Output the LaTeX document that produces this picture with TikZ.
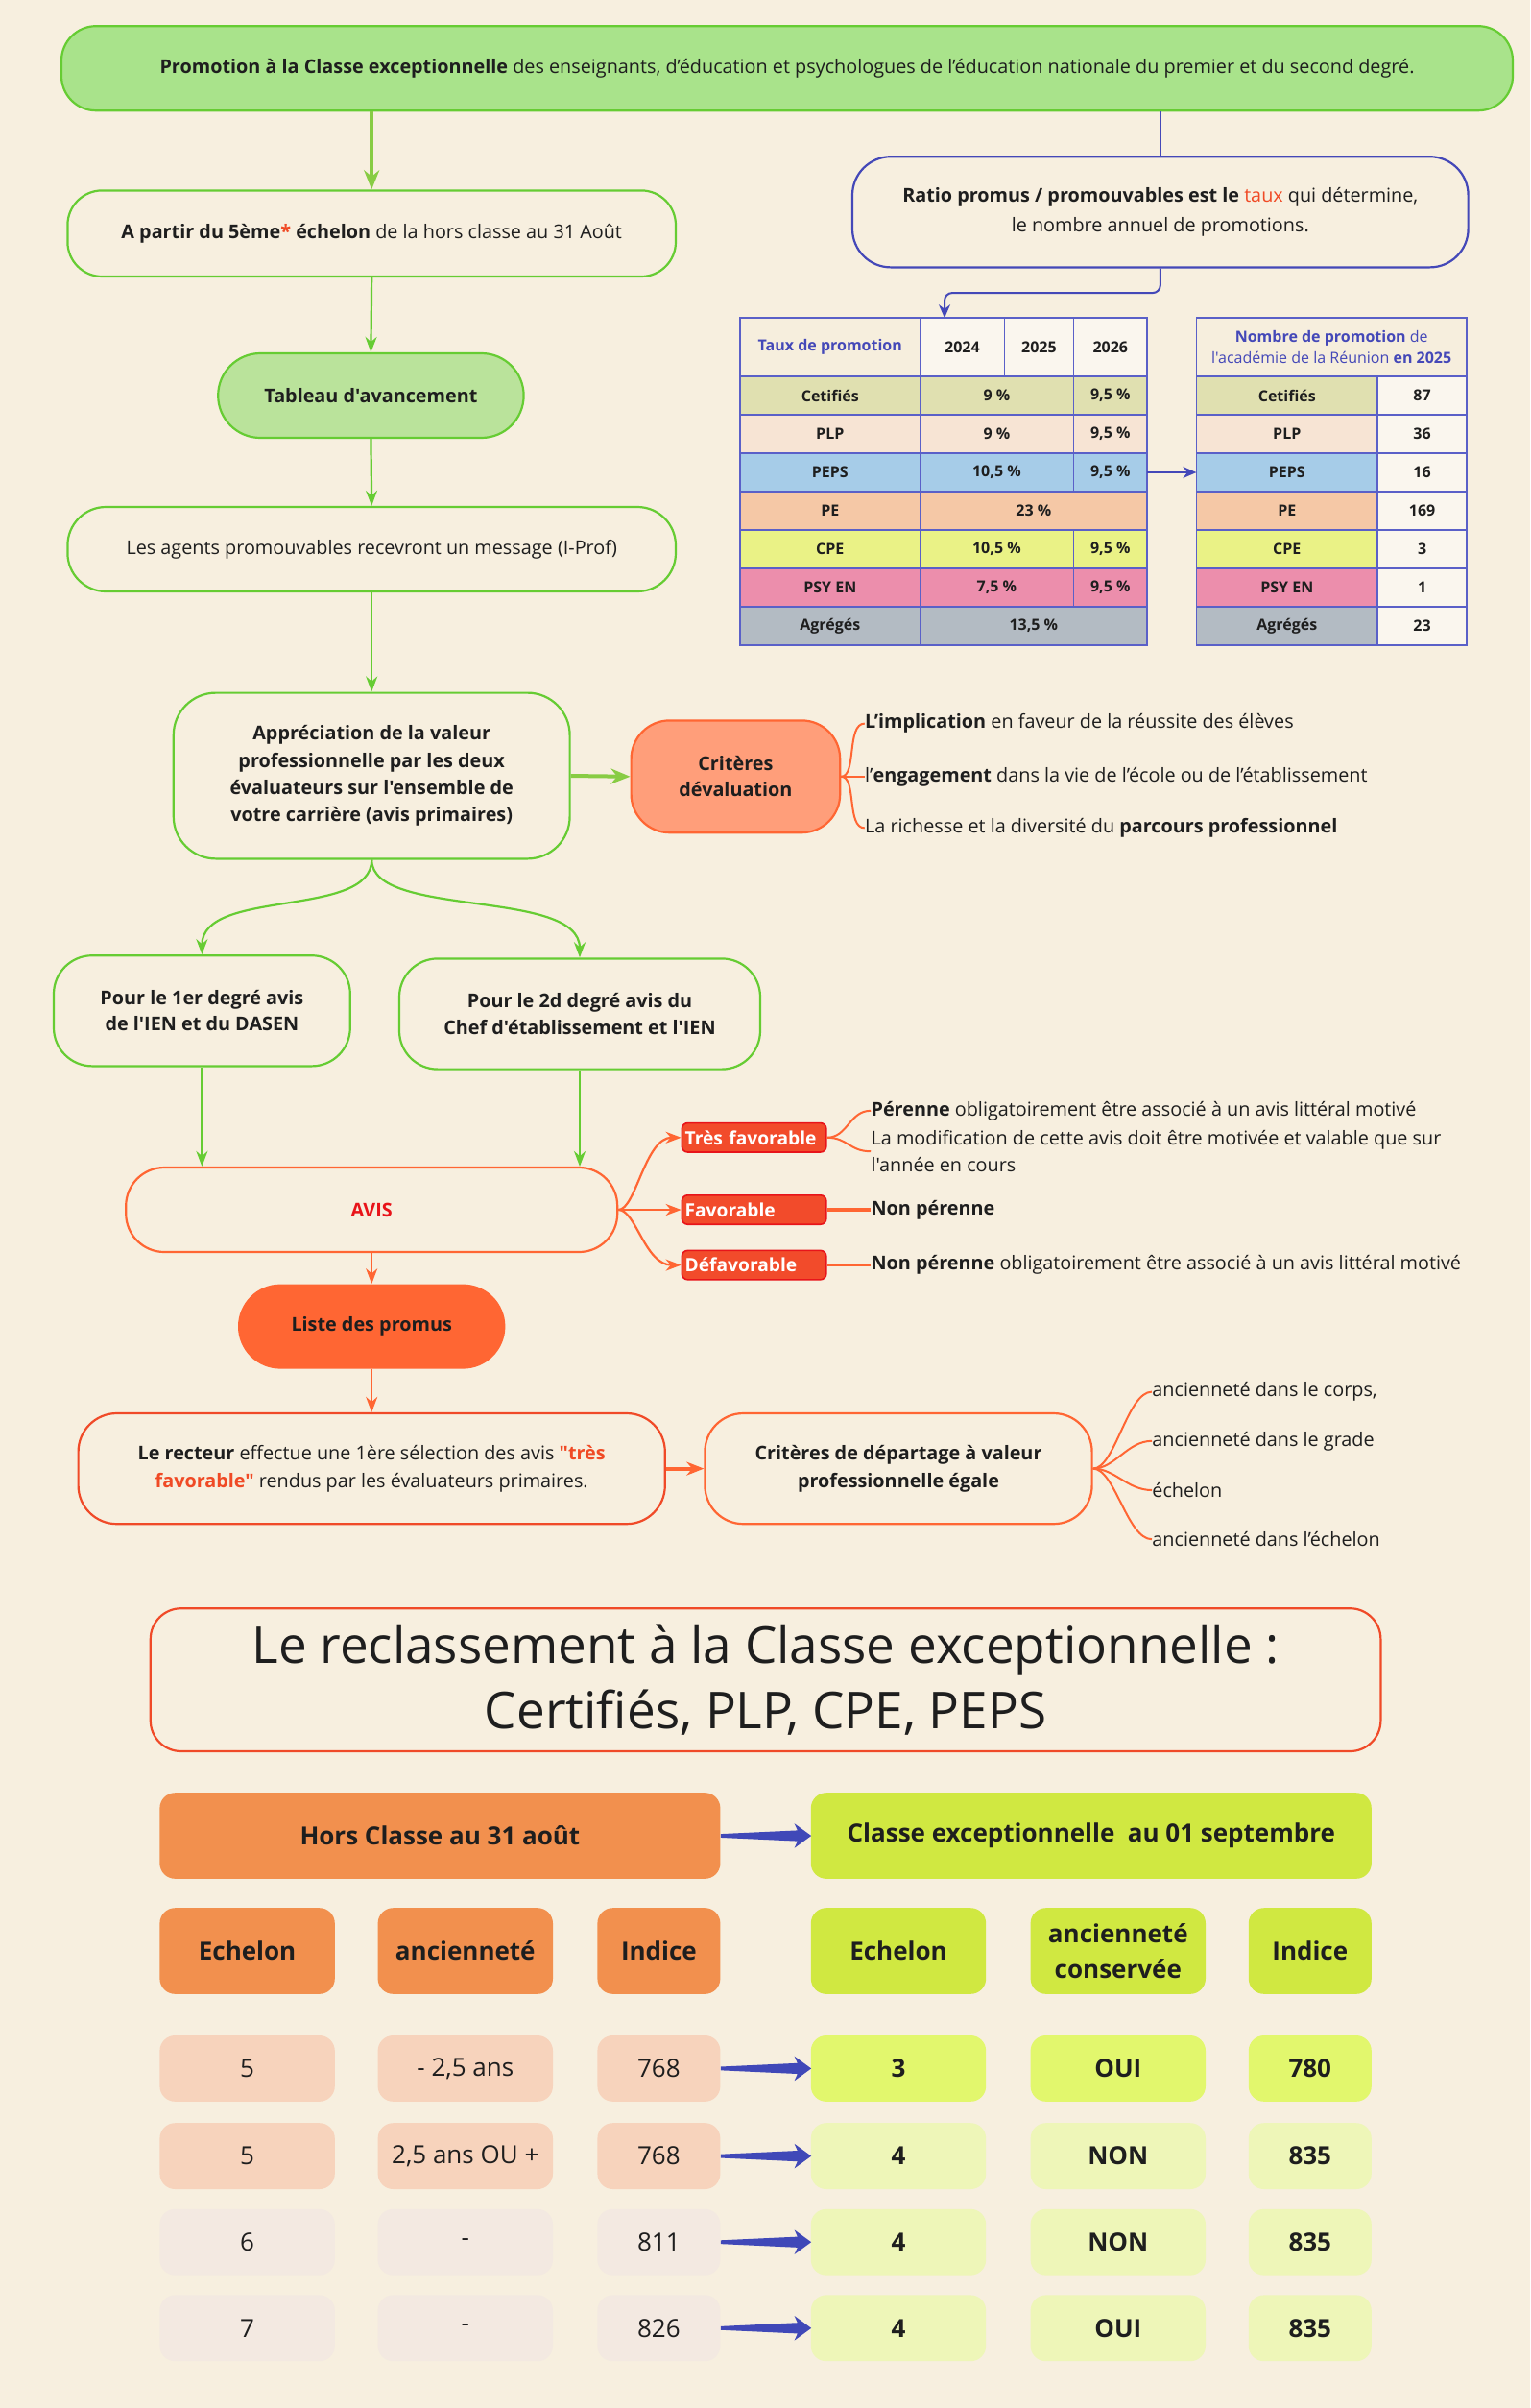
\documentclass[tikz,border=0pt]{standalone}
\usepackage{fontspec}
\setmainfont{Open Sans}[Ligatures=TeXOff]
\usetikzlibrary{arrows.meta}
\definecolor{bg}{HTML}{F7EFDF}
\definecolor{txt}{HTML}{1E1E1E}
\definecolor{gborder}{HTML}{66CC33}
\definecolor{gline}{HTML}{66CC33}
\definecolor{gthick}{HTML}{88CC44}
\definecolor{topfill}{HTML}{A9E38B}
\definecolor{tabfill}{HTML}{BAE39B}
\definecolor{bline}{HTML}{4448B8}
\definecolor{tauxred}{HTML}{F04A25}
\definecolor{oborder}{HTML}{FF6633}
\definecolor{oline}{HTML}{FF6633}
\definecolor{critfill}{HTML}{FF9E7A}
\definecolor{avisred}{HTML}{E8141A}
\definecolor{tagfill}{HTML}{F24B2B}
\definecolor{recborder}{HTML}{F04A28}
\definecolor{horsfill}{HTML}{F2904E}
\definecolor{cexfill}{HTML}{D0E841}
\definecolor{lrowa}{HTML}{F7D3BC}
\definecolor{lrowb}{HTML}{F3E9E1}
\definecolor{rrowa}{HTML}{E2F76D}
\definecolor{rrowb}{HTML}{EEF6B8}
\definecolor{tabline}{HTML}{5A60C8}
\definecolor{thdr}{HTML}{F6EEDD}
\definecolor{thdrb}{HTML}{FAF6EE}
\definecolor{ccert}{HTML}{E0E0B0}
\definecolor{cplp}{HTML}{F7E4D4}
\definecolor{cpeps}{HTML}{A6CCE8}
\definecolor{cpe}{HTML}{F5C8A6}
\definecolor{ccpe}{HTML}{EAF286}
\definecolor{cpsy}{HTML}{EC8EAC}
\definecolor{cagr}{HTML}{B3BBC3}
\definecolor{arrblue}{HTML}{4048B8}
\newcommand\mycell[7]{\filldraw[tabln, fill=#6] (#2,#3) rectangle (#4,#5); \node[ttext] (#1) at ({(#2+#4)/2},{(#3+#5)/2}) {#7};}
\newcommand\bcell[7]{\node[bcellst, fill=#6, minimum width=#4*0.8pt, minimum height=#5*0.8pt] (#1) at (#2,#3) {#7};}
\newcommand\barrow[1]{\fill[arrblue] (#1) +(0,-1.2) -- +(50,-3.5) -- +(48,-8) -- +(59,0) -- +(48,8) -- +(50,3.5) -- +(0,1.2) -- cycle;}
\begin{document}
\begin{tikzpicture}[x=0.8pt,y=-0.8pt,
  every node/.style={text=txt},
  base/.style={font=\fontsize{9.9}{14}\selectfont, align=center, inner sep=2pt},
  gbox/.style={base, draw=gborder, line width=1.1pt, fill=bg, rounded corners=16pt},
  obox/.style={base, draw=oborder, line width=1.1pt, fill=bg, rounded corners=16pt},
  side/.style={font=\fontsize{9.9}{13.6}\selectfont, anchor=west, inner sep=0pt, align=left},
  garr/.style={draw=gline, line width=1.1pt, -{Stealth[length=8pt,width=6pt]}},
  garrthick/.style={draw=gthick, line width=2pt, -{Stealth[length=10pt,width=8pt]}},
  oarr/.style={draw=oline, line width=1.1pt, -{Stealth[length=8pt,width=6pt]}},
  oarrthick/.style={draw=oline, line width=2pt, -{Stealth[length=9pt,width=7pt]}},
  olink/.style={draw=oline, line width=1pt},
  olinkthick/.style={draw=oline, line width=1.8pt},
  blink/.style={draw=bline, line width=1pt},
  barr/.style={draw=bline, line width=1pt, -{Stealth[length=7pt,width=6pt]}},
  redtag/.style={draw=avisred, fill=tagfill, line width=0.8pt, rounded corners=3pt, minimum height=15.2pt, text width=72pt, align=left, inner xsep=1.6pt, inner ysep=0pt, text=white, font=\bfseries\fontsize{9.6}{10}\selectfont},
  tabln/.style={draw=tabline, line width=0.9pt},
  ttext/.style={font=\bfseries\fontsize{8}{11.2}\selectfont, inner sep=0pt, align=center},
  bcellst/.style={rounded corners=8pt, inner sep=0pt, align=center, font=\fontsize{13}{18.4}\selectfont}
]
\fill[bg] (0,0) rectangle (996.25,1567.5);
\useasboundingbox (0,0) rectangle (996.25,1567.5);

% ---------- top flow ----------
\node[gbox, fill=topfill, minimum width=756pt, minimum height=44pt, rounded corners=18pt] (top) at (512.5,44.5) {\textbf{Promotion à la Classe exceptionnelle} des enseignants, d’éducation et psychologues de l’éducation nationale du premier et du second degré.};
\node[gbox, minimum width=316.8pt, minimum height=44.8pt, rounded corners=18pt] (apartir) at (242,152) {\textbf{A partir du 5ème{\color{tauxred}*} échelon} de la hors classe au 31 Août};
\node[base, draw=bline, line width=1.1pt, fill=bg, rounded corners=20pt, minimum width=320.8pt, minimum height=57.6pt, font=\fontsize{9.9}{15.2}\selectfont] (ratio) at (755.5,138) {\textbf{Ratio promus / promouvables est le} {\color{tauxred}taux} qui détermine,\\ le nombre annuel de promotions.};
\node[gbox, fill=tabfill, minimum width=159.2pt, minimum height=44pt, rounded corners=22pt] (tableau) at (241.5,257.5) {\textbf{Tableau d'avancement}};
\node[gbox, minimum width=316.8pt, minimum height=44pt, rounded corners=20pt] (agents) at (242,357.5) {Les agents promouvables recevront un message (I-Prof)};
\node[gbox, minimum width=206.4pt, minimum height=86.4pt, rounded corners=22pt, font=\bfseries\fontsize{9.9}{14.2}\selectfont] (apprec) at (242,505) {Appréciation de la valeur\\professionnelle par les deux\\évaluateurs sur l'ensemble de\\votre carrière (avis primaires)};
\node[base, draw=oborder, fill=critfill, line width=1.1pt, rounded corners=20pt, minimum width=108.8pt, minimum height=58.4pt, font=\bfseries\fontsize{9.9}{13.6}\selectfont] (crit) at (479,505.5) {Critères\\dévaluation};
\node[gbox, minimum width=154.4pt, minimum height=57.6pt, rounded corners=20pt, font=\bfseries\fontsize{9.9}{13.6}\selectfont] (pour1) at (131.5,658) {Pour le 1er degré avis\\de l'IEN et du DASEN};
\node[gbox, minimum width=188pt, minimum height=57.6pt, rounded corners=20pt, font=\bfseries\fontsize{9.9}{13.6}\selectfont] (pour2) at (377.5,660) {Pour le 2d degré avis du\\Chef d'établissement et l'IEN};
\node[obox, minimum width=256pt, minimum height=44pt, rounded corners=20pt] (avis) at (242,787.5) {\textcolor{avisred}{\textbf{AVIS}}};
\node[redtag] (tres) at (491,740.5) {\mbox{Très favorable}};
\node[redtag] (fav) at (491,787.5) {\mbox{Favorable}};
\node[redtag] (defav) at (491,823.5) {\mbox{Défavorable}};
\node[base, fill=oline, minimum width=139.2pt, minimum height=44pt, rounded corners=22pt] (liste) at (242,863.5) {\textbf{Liste des promus}};
\node[obox, draw=recborder, minimum width=305.6pt, minimum height=57.6pt, rounded corners=20pt, font=\fontsize{9.9}{14.4}\selectfont] (recteur) at (242,956) {\textbf{Le recteur} effectue une 1ère sélection des avis {\color{tauxred}\textbf{"très}}\\{\color{tauxred}\textbf{favorable"}} rendus par les évaluateurs primaires.};
\node[obox, minimum width=201.6pt, minimum height=57.6pt, rounded corners=20pt, font=\bfseries\fontsize{9.9}{14.4}\selectfont] (depart) at (585,956) {Critères de départage à valeur\\professionnelle égale};

% side texts
\node[side] (impl) at (563,471) {\textbf{L’implication} en faveur de la réussite des élèves};
\node[side] (engag) at (563,505.5) {l’\textbf{engagement} dans la vie de l’école ou de l’établissement};
\node[side] (riche) at (563,539) {La richesse et la diversité du \textbf{parcours professionnel}};
\node[side] (perenne) at (567,723) {\textbf{Pérenne} obligatoirement être associé à un avis littéral motivé};
\node[side, font=\fontsize{9.9}{13.8}\selectfont] (modif) at (567,749.5) {La modification de cette avis doit être motivée et valable que sur\\l'année en cours};
\node[side] (nonpa) at (567,787.5) {\textbf{Non pérenne}};
\node[side] (nonpb) at (567,823.5) {\textbf{Non pérenne} obligatoirement être associé à un avis littéral motivé};
\node[side] (anca) at (750,906) {ancienneté dans le corps,};
\node[side] (ancb) at (750,938) {ancienneté dans le grade};
\node[side] (ancc) at (750,970) {échelon};
\node[side] (ancd) at (750,1002) {ancienneté dans l’échelon};

% connectors
\draw[garrthick] (apartir.north |- top.south) -- (apartir.north);
\draw[blink] (ratio.north |- top.south) -- (ratio.north);
\coordinate (tabtop) at (615,207);
\draw[barr, rounded corners=4pt] (ratio.south) -- ++(0,16) -| (tabtop);
\draw[garr] (apartir.south) -- (tableau.north);
\draw[garr] (tableau.south) -- (agents.north);
\draw[garr] (agents.south) -- (apprec.north);
\draw[garrthick] (apprec.east) -- (crit.west);
\draw[garr] (apprec.south) .. controls (242,598) and (131.5,578) .. (pour1.north);
\draw[garr] (apprec.south) .. controls (242,598) and (377.5,578) .. (pour2.north);
\draw[garr] (pour1.south) -- (pour1.south |- avis.north);
\draw[garr] (pour2.south) -- (pour2.south |- avis.north);
\draw[olink] (crit.east) .. controls (558,505.5) and (551,471) .. (impl.west);
\draw[olink] (crit.east) -- (engag.west);
\draw[olink] (crit.east) .. controls (558,505.5) and (551,539) .. (riche.west);
\draw[oarr] (avis.east) .. controls (414,787.5) and (420,740.5) .. (tres.west);
\draw[oarr] (avis.east) -- (fav.west);
\draw[oarr] (avis.east) .. controls (414,787.5) and (420,823.5) .. (defav.west);
\draw[olink] (tres.east) .. controls (552,740.5) and (553,723) .. (perenne.west);
\draw[olink] (tres.east) .. controls (552,740.5) and (553,749.5) .. (modif.west);
\draw[olinkthick] (fav.east) -- (nonpa.west);
\draw[olinkthick] (defav.east) -- (nonpb.west);
\draw[oarr] (avis.south) -- (liste.north);
\draw[oarr] (liste.south) -- (recteur.north);
\draw[oarrthick] (recteur.east) -- (depart.west);
\draw[olink] (depart.east) .. controls (726,956) and (734,906) .. (anca.west);
\draw[olink] (depart.east) .. controls (726,956) and (734,938) .. (ancb.west);
\draw[olink] (depart.east) .. controls (726,956) and (734,970) .. (ancc.west);
\draw[olink] (depart.east) .. controls (726,956) and (734,1002) .. (ancd.west);

% ---------- left table ----------
\mycell{th0}{482}{207}{599}{245}{thdr}{\textcolor{bline}{Taux de promotion}}
\mycell{th1}{599}{207}{654}{245}{thdrb}{2024}
\mycell{th2}{654}{207}{699}{245}{thdrb}{2025}
\mycell{th3}{699}{207}{747}{245}{thdrb}{2026}
\mycell{ta0}{482}{245}{599}{270}{ccert}{Cetifiés}
\mycell{ta1}{599}{245}{699}{270}{ccert}{9 \%}
\mycell{ta2}{699}{245}{747}{270}{ccert}{9,5 \%}
\mycell{tb0}{482}{270}{599}{295}{cplp}{PLP}
\mycell{tb1}{599}{270}{699}{295}{cplp}{9 \%}
\mycell{tb2}{699}{270}{747}{295}{cplp}{9,5 \%}
\mycell{tc0}{482}{295}{599}{320}{cpeps}{PEPS}
\mycell{tc1}{599}{295}{699}{320}{cpeps}{10,5 \%}
\mycell{tc2}{699}{295}{747}{320}{cpeps}{9,5 \%}
\mycell{td0}{482}{320}{599}{345}{cpe}{PE}
\mycell{td1}{599}{320}{747}{345}{cpe}{23 \%}
\mycell{te0}{482}{345}{599}{370}{ccpe}{CPE}
\mycell{te1}{599}{345}{699}{370}{ccpe}{10,5 \%}
\mycell{te2}{699}{345}{747}{370}{ccpe}{9,5 \%}
\mycell{tf0}{482}{370}{599}{395}{cpsy}{PSY EN}
\mycell{tf1}{599}{370}{699}{395}{cpsy}{7,5 \%}
\mycell{tf2}{699}{370}{747}{395}{cpsy}{9,5 \%}
\mycell{tg0}{482}{395}{599}{420}{cagr}{Agrégés}
\mycell{tg1}{599}{395}{747}{420}{cagr}{13,5 \%}

% ---------- right table ----------
\mycell{rh}{779}{207}{955}{245}{thdr}{\textcolor{bline}{Nombre de promotion \mdseries de}\\\textcolor{bline}{\mdseries l'académie de la Réunion \bfseries en 2025}}
\mycell{ra0}{779}{245}{897}{270}{ccert}{Cetifiés}
\mycell{ra1}{897}{245}{955}{270}{thdrb}{87}
\mycell{rb0}{779}{270}{897}{295}{cplp}{PLP}
\mycell{rb1}{897}{270}{955}{295}{thdrb}{36}
\mycell{rc0}{779}{295}{897}{320}{cpeps}{PEPS}
\mycell{rc1}{897}{295}{955}{320}{thdrb}{16}
\mycell{rd0}{779}{320}{897}{345}{cpe}{PE}
\mycell{rd1}{897}{320}{955}{345}{thdrb}{169}
\mycell{re0}{779}{345}{897}{370}{ccpe}{CPE}
\mycell{re1}{897}{345}{955}{370}{thdrb}{3}
\mycell{rf0}{779}{370}{897}{395}{cpsy}{PSY EN}
\mycell{rf1}{897}{370}{955}{395}{thdrb}{1}
\mycell{rg0}{779}{395}{897}{420}{cagr}{Agrégés}
\mycell{rg1}{897}{395}{955}{420}{thdrb}{23}
\draw[barr] (747,307.5) -- (rc0.west -| 779,0);

% ---------- reclassement ----------
\node[base, draw=recborder, fill=bg, line width=1.1pt, rounded corners=16pt, minimum width=640.8pt, minimum height=74.4pt, font=\fontsize{26.5}{34.4}\selectfont] (title) at (498.5,1093.5) {Le reclassement à la Classe exceptionnelle :\\Certifiés, PLP, CPE, PEPS};

\bcell{hors}{286.5}{1195}{365}{56}{horsfill}{\bfseries Hors Classe au 31 août}
\bcell{cexc}{710.5}{1195}{365}{56}{cexfill}{\bfseries Classe exceptionnelle\ \ au 01 septembre}
\barrow{hors.east}

\bcell{ha}{161}{1270}{114}{56}{horsfill}{\bfseries Echelon}
\bcell{hb}{303}{1270}{114}{56}{horsfill}{\bfseries ancienneté}
\bcell{hc}{429}{1270}{80}{56}{horsfill}{\bfseries Indice}
\bcell{hd}{585}{1270}{114}{56}{cexfill}{\bfseries Echelon}
\bcell{he}{728}{1270}{114}{56}{cexfill}{{\bfseries ancienneté}\\{\bfseries conservée}}
\bcell{hf}{853}{1270}{80}{56}{cexfill}{\bfseries Indice}

\bcell{aa}{161}{1346.5}{114}{43}{lrowa}{5}
\bcell{ab}{303}{1346.5}{114}{43}{lrowa}{- 2,5 ans}
\bcell{ac}{429}{1346.5}{80}{43}{lrowa}{768}
\bcell{ad}{585}{1346.5}{114}{43}{rrowa}{\bfseries 3}
\bcell{ae}{728}{1346.5}{114}{43}{rrowa}{\bfseries OUI}
\bcell{af}{853}{1346.5}{80}{43}{rrowa}{\bfseries 780}
\barrow{ac.east}

\bcell{ba}{161}{1403.5}{114}{43}{lrowa}{5}
\bcell{bb}{303}{1403.5}{114}{43}{lrowa}{2,5 ans OU +}
\bcell{bc}{429}{1403.5}{80}{43}{lrowa}{768}
\bcell{bd}{585}{1403.5}{114}{43}{rrowb}{\bfseries 4}
\bcell{be}{728}{1403.5}{114}{43}{rrowb}{\bfseries NON}
\bcell{bf}{853}{1403.5}{80}{43}{rrowb}{\bfseries 835}
\barrow{bc.east}

\bcell{ca}{161}{1459.5}{114}{43}{lrowb}{6}
\bcell{cb}{303}{1459.5}{114}{43}{lrowb}{-}
\bcell{cc}{429}{1459.5}{80}{43}{lrowb}{811}
\bcell{cd}{585}{1459.5}{114}{43}{rrowb}{\bfseries 4}
\bcell{ce}{728}{1459.5}{114}{43}{rrowb}{\bfseries NON}
\bcell{cf}{853}{1459.5}{80}{43}{rrowb}{\bfseries 835}
\barrow{cc.east}

\bcell{da}{161}{1515.5}{114}{43}{lrowb}{7}
\bcell{db}{303}{1515.5}{114}{43}{lrowb}{-}
\bcell{dc}{429}{1515.5}{80}{43}{lrowb}{826}
\bcell{dd}{585}{1515.5}{114}{43}{rrowb}{\bfseries 4}
\bcell{de}{728}{1515.5}{114}{43}{rrowb}{\bfseries OUI}
\bcell{df}{853}{1515.5}{80}{43}{rrowb}{\bfseries 835}
\barrow{dc.east}
\end{tikzpicture}
\end{document}
